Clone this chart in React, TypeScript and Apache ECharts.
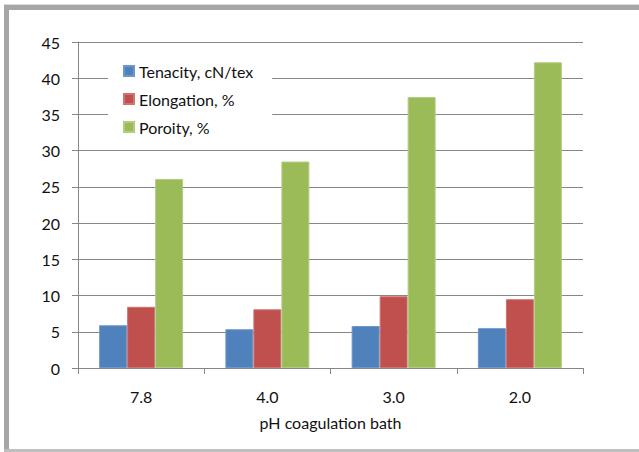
import React, { useEffect, useRef } from "react";
import * as echarts from "echarts";

const categories = ["7.8", "4.0", "3.0", "2.0"];
const tenacity = [5.9, 5.35, 5.8, 5.5];
const elongation = [8.45, 8.1, 9.9, 9.5];
const porosity = [26.1, 28.5, 37.4, 42.2];
const seriesNames = ["Tenacity, cN/tex", "Elongation, %", "Poroity, %"];
const xTitle = "pH coagulation bath";

const FONT = "Lato, 'Open Sans', sans-serif";
const TXT = "#111111";

export default function App() {
  const ref = useRef<HTMLDivElement>(null);
  useEffect(() => {
    if (!ref.current) return;
    const chart = echarts.init(ref.current, undefined, { renderer: "svg" });
    const colors = ["#4f81bd", "#c0504d", "#9bbb59"];
    const borders = ["#6f97c9", "#cf7472", "#b2cd82"];
    const data = [tenacity, elongation, porosity];
    chart.setOption({
      animation: false,
      backgroundColor: "#ffffff",
      textStyle: { fontFamily: FONT },
      grid: { left: 78, right: 56, top: 42, bottom: 84, containLabel: false },
      legend: {
        orient: "vertical",
        left: 108,
        top: 50,
        padding: [12, 19, 10, 15],
        backgroundColor: "#ffffff",
        itemWidth: 10,
        itemHeight: 10,
        itemGap: 10,
        icon: "rect",
        textStyle: { fontFamily: FONT, fontSize: 16, color: TXT, lineHeight: 18 },
        data: seriesNames,
      },
      xAxis: {
        type: "category",
        data: categories,
        boundaryGap: true,
        axisLine: { lineStyle: { color: "#868686", width: 1 } },
        axisTick: { show: true, length: 6, lineStyle: { color: "#868686" } },
        axisLabel: { fontFamily: FONT, fontSize: 16, color: TXT, margin: 20 },
        name: xTitle,
        nameLocation: "middle",
        nameGap: 46,
        nameTextStyle: { fontFamily: FONT, fontSize: 16, color: TXT },
      },
      yAxis: {
        type: "value",
        min: 0,
        max: 45,
        interval: 5,
        axisLine: { show: true, lineStyle: { color: "#868686", width: 1 } },
        axisTick: { show: true, length: 6, lineStyle: { color: "#868686" } },
        axisLabel: { fontFamily: FONT, fontSize: 16, color: TXT, margin: 18 },
        splitLine: { show: true, lineStyle: { color: "#868686", width: 1 } },
      },
      series: seriesNames.map((name, i) => ({
        name,
        type: "bar",
        data: data[i],
        barWidth: 28,
        barGap: "0%",
        itemStyle: { color: colors[i], borderColor: borders[i], borderWidth: 1 },
        z: 3,
      })),
      graphic: [
        { type: "rect", shape: { x: 4, y: 4, width: 635, height: 1 }, style: { fill: "#d9d9d9" }, silent: true },
        { type: "rect", shape: { x: 4, y: 5, width: 635, height: 5 }, style: { fill: "#a6a6a6" }, silent: true },
        { type: "rect", shape: { x: 4, y: 5, width: 5, height: 447 }, style: { fill: "#a6a6a6" }, silent: true },
        { type: "rect", shape: { x: 4, y: 449, width: 635, height: 3 }, style: { fill: "#bfbfbf" }, silent: true },
      ],
    });
    return () => chart.dispose();
  }, []);
  return (
    <div
      ref={ref}
      style={{ position: "fixed", left: 0, top: 0, width: 639, height: 452 }}
    />
  );
}
